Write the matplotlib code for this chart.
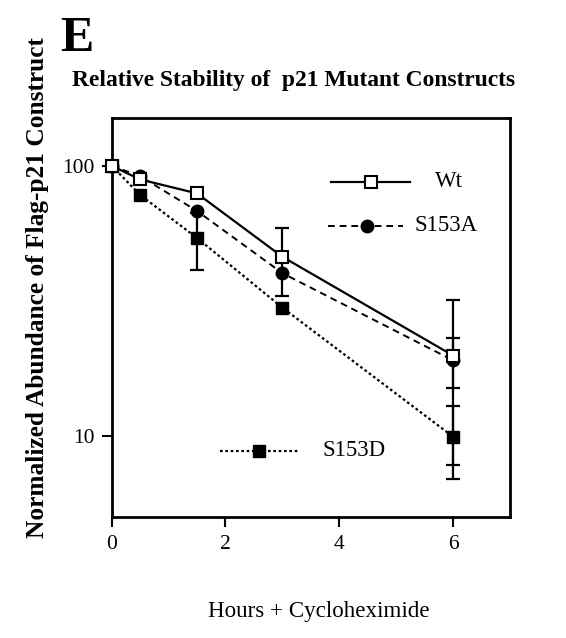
import numpy as np
import matplotlib.pyplot as plt

plt.rcParams['font.family'] = ['Liberation Serif', 'DejaVu Serif']

# data
hours = [0, 0.5, 1.5, 3, 6]
wt = [100, 89, 79, 46, 19.8]
s153a = [100, 91.5, 68, 40, 19]
s153d = [100, 78, 54, 29.8, 9.9]

# error bars (only where visible; 0 = none)
wt_err = [0, 0, 0, 13, 12]
s153a_err = [0, 0, 0, 0, 4]
s153d_err = [0, 0, 13, 0, 3]

fig = plt.figure(figsize=(5.66, 6.38), dpi=100)
ax = fig.add_axes([0.1973, 0.190, 0.7037, 0.6246])

ms = 9


def errs(y, e):
    idx = [i for i in range(len(e)) if e[i] > 0]
    ax.errorbar([hours[i] for i in idx], [y[i] for i in idx], yerr=[e[i] for i in idx],
                fmt='none', ecolor='black', elinewidth=1.6, capsize=5, capthick=1.6, zorder=2)


errs(wt, wt_err)
errs(s153a, s153a_err)
errs(s153d, s153d_err)

ax.plot(hours, s153d, color='black', linestyle=(0, (1.2, 1.2)), lw=1.6,
        marker='s', ms=ms, mfc='black', mec='black', zorder=3, clip_on=False)
ax.plot(hours, s153a, color='black', linestyle=(0, (3.5, 2.5)), lw=1.4,
        marker='o', ms=ms, mfc='black', mec='black', zorder=4, clip_on=False)
ax.plot(hours, wt, color='black', linestyle='-', lw=1.6,
        marker='s', ms=ms, mfc='white', mec='black', mew=1.5, zorder=5, clip_on=False)

# hand-placed legend entries
ax.plot([0.550, 0.749], [0.841, 0.841], transform=ax.transAxes, color='black', lw=1.6)
ax.plot([0.650], [0.841], transform=ax.transAxes, marker='s', ms=ms, mfc='white',
        mec='black', mew=1.5, color='black')
ax.text(0.812, 0.841, 'Wt', transform=ax.transAxes, fontsize=16.5, va='center', ha='left')

ax.plot([0.543, 0.731], [0.730, 0.730], transform=ax.transAxes, color='black',
        lw=1.4, linestyle=(0, (3.5, 2.5)))
ax.plot([0.640], [0.730], transform=ax.transAxes, marker='o', ms=ms, color='black')
ax.text(0.761, 0.730, 'S153A', transform=ax.transAxes, fontsize=16.5, va='center', ha='left')

ax.plot([0.272, 0.468], [0.166, 0.166], transform=ax.transAxes, color='black',
        lw=1.6, linestyle=(0, (1.2, 1.2)))
ax.plot([0.370], [0.166], transform=ax.transAxes, marker='s', ms=ms, color='black')
ax.text(0.530, 0.166, 'S153D', transform=ax.transAxes, fontsize=16.5, va='center', ha='left')

ax.set_yscale('log')
ax.set_ylim(5, 150)
ax.set_xlim(0, 7)
ax.set_xticks([0, 2, 4, 6])
ax.set_yticks([10, 100])
ax.set_yticklabels(['10', '100'])
ax.yaxis.set_minor_locator(plt.NullLocator())
ax.tick_params(axis='both', direction='out', length=7, width=1.5, labelsize=15.5, color='black')
ax.tick_params(axis='x', pad=6)
ax.tick_params(axis='y', pad=5)
for s in ax.spines.values():
    s.set_linewidth(2)

fig.text(0.0671, 0.5494, 'Normalized Abundance of Flag-p21 Construct', rotation=90,
         fontsize=18.3, fontweight='bold', ha='center', va='center')
fig.text(0.5636, 0.0412, 'Hours + Cycloheximide', fontsize=16.6, ha='center', va='center')
fig.text(0.519, 0.8746, 'Relative Stability of  p21 Mutant Constructs', fontsize=16.9,
         fontweight='bold', ha='center', va='center')
fig.text(0.106, 0.9386, 'E', fontsize=36, fontweight='bold', ha='left', va='center')

fig.savefig('out.png', dpi=100)
